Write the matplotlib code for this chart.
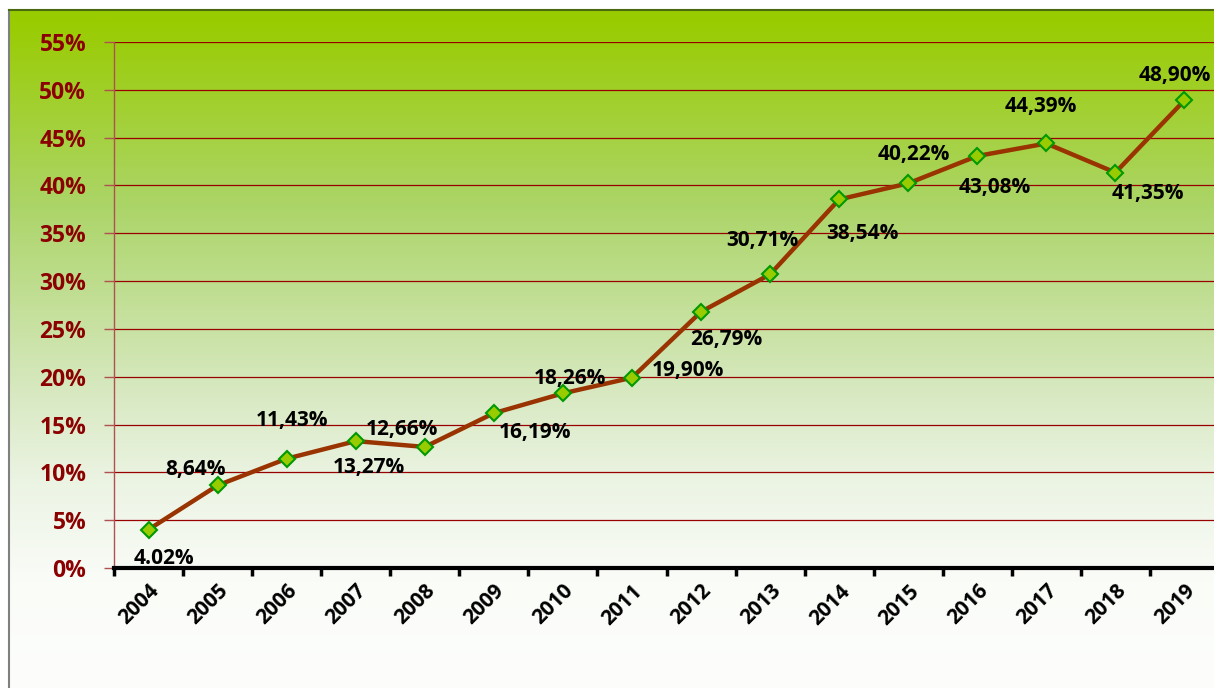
import numpy as np
import matplotlib
matplotlib.use("Agg")
import matplotlib.pyplot as plt

years = [str(y) for y in range(2004, 2020)]
values = [4.02, 8.64, 11.43, 13.27, 12.66, 16.19, 18.26, 19.90,
          26.79, 30.71, 38.54, 40.22, 43.08, 44.39, 41.35, 48.90]
labels = ["4.02%", "8,64%", "11,43%", "13,27%", "12,66%", "16,19%",
          "18,26%", "19,90%", "26,79%", "30,71%", "38,54%", "40,22%",
          "43,08%", "44,39%", "41,35%", "48,90%"]
yticks = list(range(0, 60, 5))

# label offsets in pixels (dx, dy) relative to each point
offsets = [(15, -29), (-22, 16), (5, 38), (13, -26), (-23, 17), (41, -19),
           (7, 15), (56, 7), (25, -28), (-8, 34), (23, -34), (6, 29),
           (17, -32), (-6, 37), (32, -21), (-10, 25)]

W, H = 1214, 688
fig = plt.figure(figsize=(W / 100, H / 100), dpi=100)

# background gradient over the whole chart area
bg = fig.add_axes([0, 0, 1, 1], zorder=0)
bg.set_xlim(0, W)
bg.set_ylim(H, 0)
bg.axis("off")
stops_y = [10, 200, 380, 480, 580, 688]
stops_c = [(153, 204, 0), (172, 213, 105), (214, 232, 190),
           (236, 244, 228), (250, 252, 248), (253, 254, 252)]
rows = np.arange(H)
grad = np.zeros((H, 1, 3))
for k in range(3):
    grad[:, 0, k] = np.interp(rows, stops_y, [c[k] for c in stops_c]) / 255
bg.imshow(grad, extent=[9, W, H, 10], aspect="auto", zorder=0)
bg.plot([9, 9], [10, H], color="#808080", lw=1.5, zorder=1)
bg.plot([9, W], [10, 10], color="#4a6a10", lw=1.5, zorder=1)

font = ["Open Sans", "DejaVu Sans"]
ax = fig.add_axes([114 / W, 120 / H, 1105 / W, 526 / H], zorder=1)
ax.patch.set_alpha(0)

x = np.arange(len(years))
ax.plot(x, values, color="#993300", lw=3.2, marker="D", markersize=8,
        markerfacecolor="#99CC00", markeredgecolor="#009900",
        markeredgewidth=1.5, zorder=3, solid_joinstyle="round")

for xi, v, lab, (dx, dy) in zip(x, values, labels, offsets):
    ax.annotate(lab, (xi, v), xytext=(dx, dy), textcoords="offset pixels",
                ha="center", va="center", fontsize=15, fontweight="bold",
                family=font, color="black", zorder=4)

ax.set_xlim(-0.5, len(years) - 0.5)
ax.set_ylim(0, 55)
ax.set_yticks(yticks)
ax.set_yticklabels([f"{t}%" for t in yticks], fontsize=16.5,
                   fontweight="bold", family=font, color="#8B0000")
ax.yaxis.grid(True, color="#990000", lw=0.9)
ax.set_axisbelow(True)

ax.set_xticks(np.arange(len(years) + 1) - 0.5, minor=False)
ax.set_xticklabels([])
ax.set_xticks(x, minor=True)
ax.set_xticklabels(years, minor=True, rotation=45, ha="right",
                   rotation_mode="anchor", fontsize=15, fontweight="bold",
                   family=font)
ax.tick_params(axis="x", which="major", length=6, width=2.5, color="black")
ax.tick_params(axis="x", which="minor", length=0, pad=9)
ax.tick_params(axis="y", length=7, width=1, color="#b05050", pad=13)

for s in ["top", "right"]:
    ax.spines[s].set_visible(False)
ax.spines["left"].set_color("#b05050")
ax.spines["left"].set_linewidth(1)
ax.spines["bottom"].set_color("black")
ax.spines["bottom"].set_linewidth(3)
ax.spines["bottom"].set_zorder(5)

fig.savefig("out.png", dpi=100)
